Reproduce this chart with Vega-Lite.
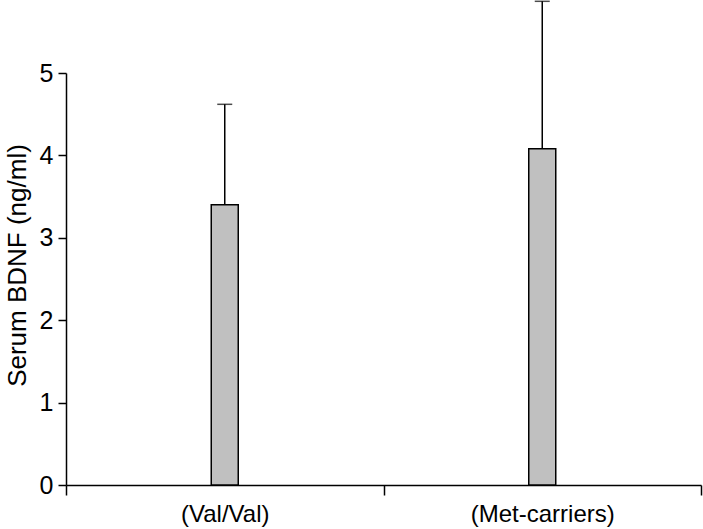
{
  "$schema": "https://vega.github.io/schema/vega-lite/v6.json",
  "width": 635,
  "height": 412,
  "autosize": "none",
  "padding": {"left": 66, "top": 73, "right": 2, "bottom": 44},
  "background": "white",
  "config": {
    "view": {"stroke": null},
    "font": "Liberation Sans",
    "axis": {"labelColor": "black", "titleColor": "black", "domainColor": "black", "tickColor": "black", "grid": false, "labelFont": "Liberation Sans", "titleFont": "Liberation Sans"}
  },
  "data": {
    "values": [
      {"group": "(Val/Val)", "mean": 3.40, "upper": 4.62},
      {"group": "(Met-carriers)", "mean": 4.08, "upper": 5.87}
    ]
  },
  "encoding": {
    "x": {
      "field": "group",
      "type": "nominal",
      "sort": null,
      "scale": {"paddingInner": 0, "paddingOuter": 0},
      "axis": {"title": null, "labelAngle": 0, "tickBand": "extent", "tickSize": 10, "tickWidth": 1.5, "domainWidth": 1.5, "labelFontSize": 24, "labelPadding": 7}
    }
  },
  "layer": [
    {
      "mark": {"type": "bar", "width": 27, "fill": "#c0c0c0", "stroke": "black", "strokeWidth": 1.5},
      "encoding": {
        "y": {
          "field": "mean",
          "type": "quantitative",
          "scale": {"domain": [0, 5], "nice": false},
          "axis": {"title": "Serum BDNF (ng/ml)", "values": [0, 1, 2, 3, 4, 5], "format": "d", "tickSize": 8, "tickWidth": 1.5, "domainWidth": 1.5, "labelFontSize": 25, "labelPadding": 5, "titleFontSize": 26, "titleFontWeight": "normal", "titlePadding": 9, "titleY": 192}
        }
      }
    },
    {
      "mark": {"type": "rule", "color": "black", "strokeWidth": 1.5},
      "encoding": {
        "y": {"field": "mean", "type": "quantitative"},
        "y2": {"field": "upper"}
      }
    },
    {
      "mark": {"type": "tick", "color": "black", "thickness": 1.5, "size": 15, "orient": "horizontal"},
      "encoding": {
        "y": {"field": "upper", "type": "quantitative"}
      }
    }
  ]
}
